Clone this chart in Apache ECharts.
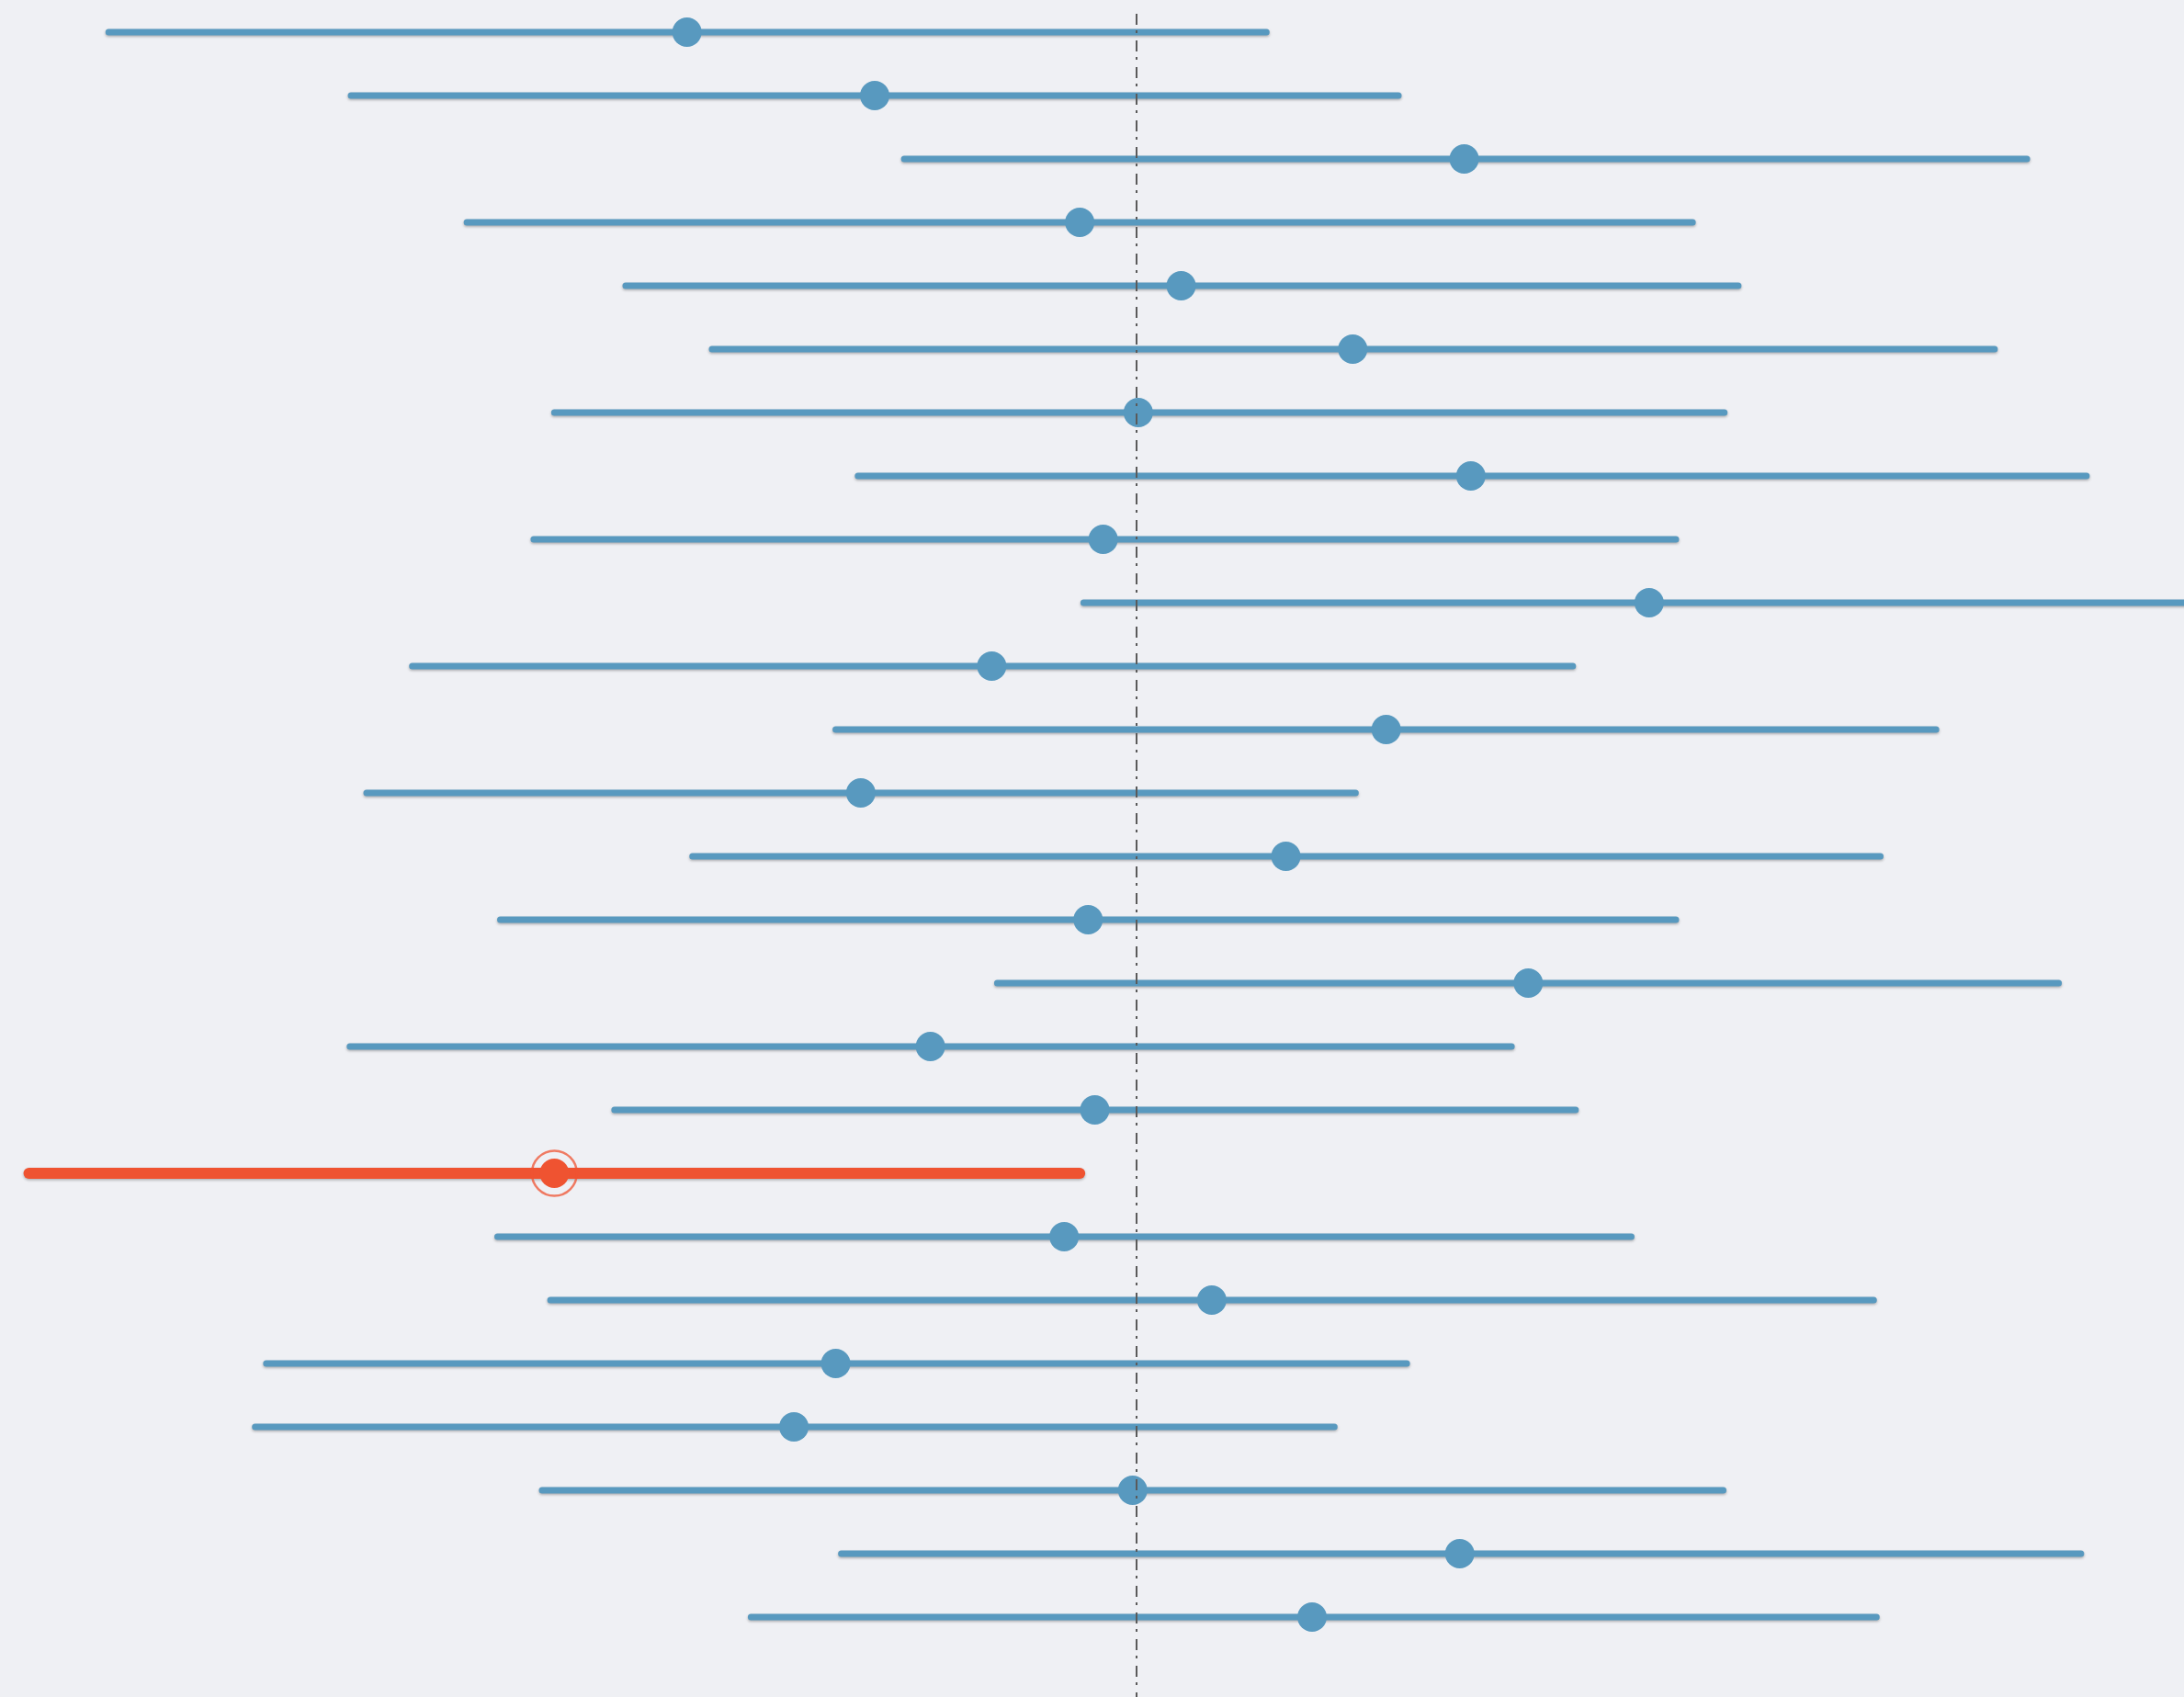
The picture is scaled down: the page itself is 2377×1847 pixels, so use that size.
<!DOCTYPE html>
<html>
<head>
<meta charset="utf-8">
<title>Confidence intervals</title>
<script src="https://cdn.jsdelivr.net/npm/echarts@6/dist/echarts.min.js"></script>
<style>
  html, body { margin: 0; padding: 0; background: #eff0f4; }
  #chart { width: 2377px; height: 1847px; }
</style>
</head>
<body>
<div id="chart"></div>
<script>
// True population mean; intervals that miss it are highlighted.
const trueMean = 100;

// One row per sample, top to bottom.
const lower = [81.55, 85.90, 95.83, 87.98, 90.83, 92.38, 89.55, 95.00, 89.18, 99.05,
               87.00, 94.60, 86.18, 92.03, 88.58, 97.50, 85.88, 90.63, 80.12, 88.53,
               89.48, 84.38, 84.18, 89.33, 94.70, 93.08];
const estimate = [91.93, 95.30, 105.88, 98.98, 100.80, 103.88, 100.03, 106.00, 99.40, 109.20,
                  97.40, 104.48, 95.05, 102.68, 99.13, 107.03, 96.30, 99.25, 89.55, 98.70,
                  101.35, 94.60, 93.85, 99.93, 105.80, 103.15];
const upper = [102.33, 104.70, 115.98, 109.98, 110.80, 115.40, 110.55, 117.05, 109.68, 119.35,
               107.83, 114.35, 103.93, 113.35, 109.68, 116.55, 106.73, 107.88, 98.98, 108.88,
               113.23, 104.85, 103.55, 110.53, 116.95, 113.28];

const BLUE = '#5899bf';
const RED = '#ef5331';

const rows = lower.map((lo, i) => {
  const miss = upper[i] < trueMean || lo > trueMean;
  return [i, lo, estimate[i], upper[i], miss ? 1 : 0];
});

const chart = echarts.init(document.getElementById('chart'), null, { renderer: 'canvas' });

chart.setOption({
  backgroundColor: '#eff0f4',
  animation: false,
  grid: { left: 0, right: 0, top: 15, bottom: 0 },
  xAxis: {
    type: 'value', min: 79.6, max: 118.8, show: false,
    splitLine: { show: false }
  },
  yAxis: {
    type: 'value', inverse: true, min: -0.29, max: 26.26, show: false,
    splitLine: { show: false }
  },
  series: [
    {
      // interval whiskers
      type: 'custom',
      z: 2,
      clip: true,
      data: rows,
      encode: { x: [1, 3], y: 0 },
      renderItem: function (params, api) {
        const row = api.value(0);
        const miss = api.value(4) === 1;
        const a = api.coord([api.value(1), row]);
        const b = api.coord([api.value(3), row]);
        return {
          type: 'line',
          shape: { x1: a[0], y1: a[1], x2: b[0], y2: b[1] },
          style: {
            stroke: miss ? RED : BLUE,
            lineWidth: miss ? 12 : 7,
            lineCap: 'round',
            shadowBlur: 3,
            shadowOffsetY: 1.5,
            shadowColor: 'rgba(0,0,0,0.28)'
          }
        };
      }
    },
    {
      // reference line at the true mean
      type: 'line',
      z: 3,
      data: [],
      markLine: {
        silent: true,
        symbol: ['none', 'none'],
        label: { show: false },
        lineStyle: { color: '#5a5a5a', width: 2, type: [12, 6, 3, 8] },
        data: [{ xAxis: trueMean }]
      }
    },
    {
      // point estimates
      type: 'custom',
      z: 4,
      clip: true,
      data: rows,
      encode: { x: 2, y: 0 },
      renderItem: function (params, api) {
        const row = api.value(0);
        const miss = api.value(4) === 1;
        const p = api.coord([api.value(2), row]);
        const children = [{
          type: 'circle',
          shape: { cx: p[0], cy: p[1], r: 16 },
          style: { fill: miss ? RED : BLUE }
        }];
        if (miss) {
          children.push({
            type: 'circle',
            shape: { cx: p[0], cy: p[1], r: 24.5 },
            style: { fill: 'none', stroke: 'rgba(239,83,49,0.75)', lineWidth: 2.5 }
          });
        }
        return { type: 'group', children: children };
      }
    }
  ]
});
</script>
</body>
</html>
